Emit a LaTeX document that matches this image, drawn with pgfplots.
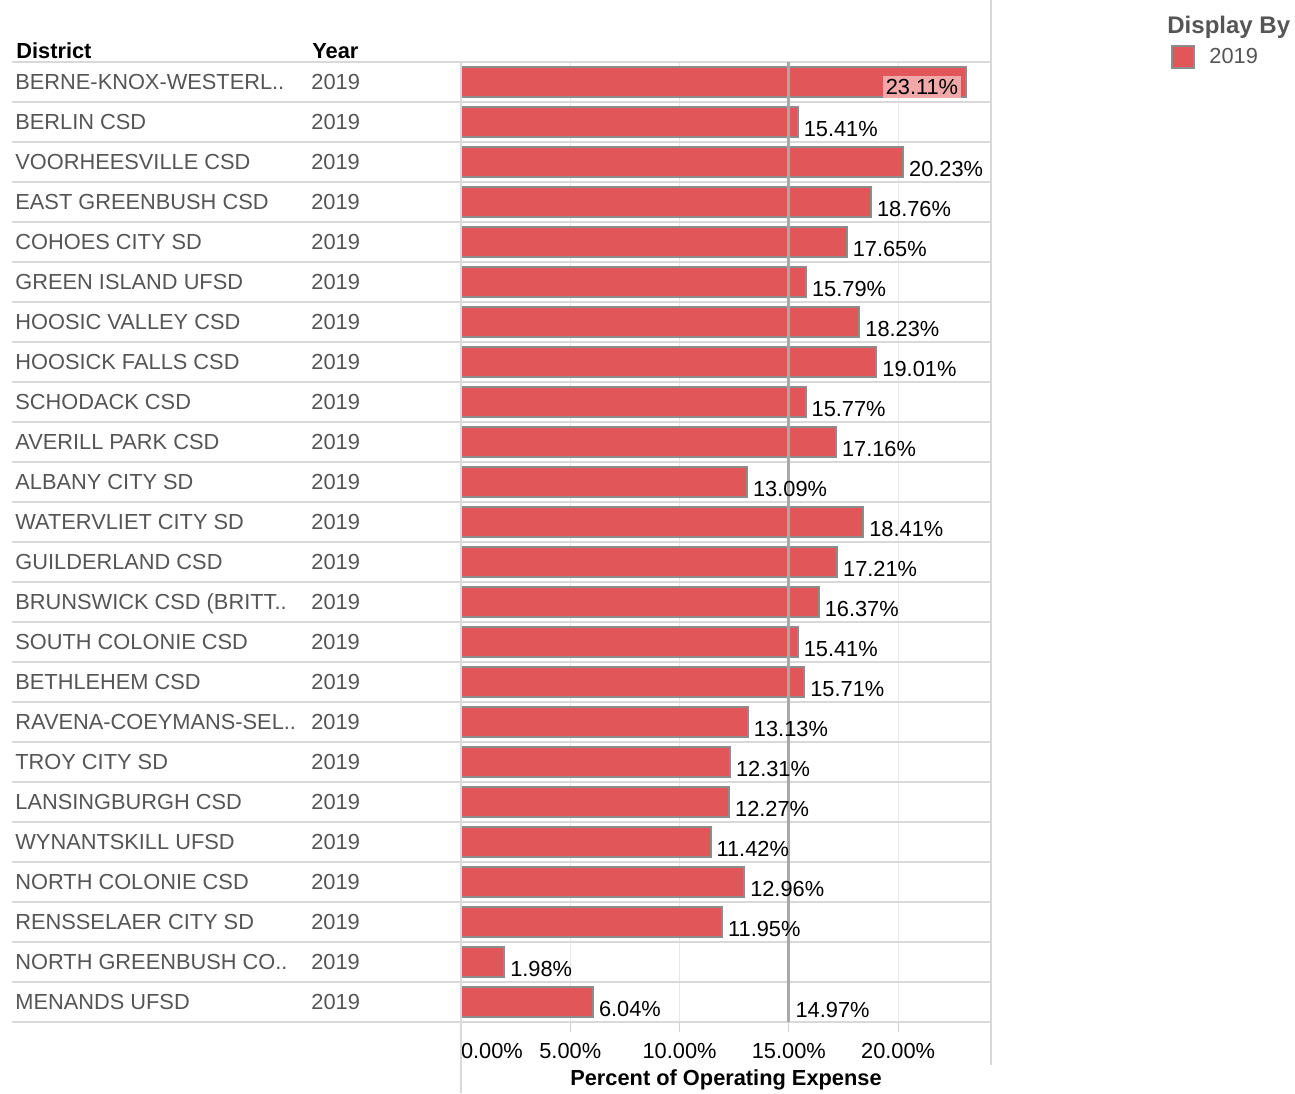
\documentclass[border=0pt]{standalone}
\usepackage{fontspec}
\setmainfont{Liberation Sans}
\usepackage{pgfplots}
\pgfplotsset{compat=1.18}
\usepackage{pgfplotstable}

\definecolor{barred}{HTML}{E15759}
\definecolor{barborder}{HTML}{8C8C8C}
\definecolor{refc}{HTML}{A8A8A8}
\definecolor{sepc}{HTML}{D9D9D9}
\definecolor{gridc}{HTML}{E8E8E8}
\definecolor{tickc}{HTML}{D0D0D0}
\definecolor{textgray}{HTML}{555555}
\definecolor{pinkc}{HTML}{F0A8A8}

\newcommand{\fs}{\fontsize{10.9pt}{13pt}\selectfont}
\newcommand{\rowlab}[1]{\makebox[148pt][l]{#1}2019}

\pgfplotstableread{
idx val
2 15.41
3 20.23
4 18.76
5 17.65
6 15.79
7 18.23
8 19.01
9 15.77
10 17.16
11 13.09
12 18.41
13 17.21
14 16.37
15 15.41
16 15.71
17 13.13
18 12.31
19 12.27
20 11.42
21 12.96
22 11.95
23 1.98
24 6.04
}\rest

\pgfplotsset{/pgf/number format/assume math mode=true}

\begin{document}
\begin{tikzpicture}
\path[use as bounding box] (0pt,0pt) rectangle (647.5pt,-546.5pt);
\begin{axis}[
  at={(230.5pt,-511pt)}, anchor=south west,
  scale only axis, width=265pt, height=480pt,
  xmin=0, xmax=24.25, ymin=0.5, ymax=24.5, y dir=reverse,
  bar width=15pt,
  clip=false,
  axis line style={draw=none},
  tick pos=left,
  xtick={0,5,10,15,20},
  xticklabels={\makebox[0pt][l]{0.00\%},5.00\%,10.00\%,15.00\%,20.00\%},
  xmajorgrids, grid style={color=gridc, line width=0.6pt},
  tick align=outside, major tick length=5pt,
  xtick style={color=tickc, line width=0.6pt},
  xticklabel style={anchor=base, inner sep=0pt, yshift=-13pt, font=\fs, text=black},
  ytick={1,...,24}, ytick style={draw=none},
  yticklabels={\rowlab{BERNE-KNOX-WESTERL..},\rowlab{BERLIN CSD},\rowlab{VOORHEESVILLE CSD},\rowlab{EAST GREENBUSH CSD},\rowlab{COHOES CITY SD},\rowlab{GREEN ISLAND UFSD},\rowlab{HOOSIC VALLEY CSD},\rowlab{HOOSICK FALLS CSD},\rowlab{SCHODACK CSD},\rowlab{AVERILL PARK CSD},\rowlab{ALBANY CITY SD},\rowlab{WATERVLIET CITY SD},\rowlab{GUILDERLAND CSD},\rowlab{BRUNSWICK CSD (BRITT..},\rowlab{SOUTH COLONIE CSD},\rowlab{BETHLEHEM CSD},\rowlab{RAVENA-COEYMANS-SEL..},\rowlab{TROY CITY SD},\rowlab{LANSINGBURGH CSD},\rowlab{WYNANTSKILL UFSD},\rowlab{NORTH COLONIE CSD},\rowlab{RENSSELAER CITY SD},\rowlab{NORTH GREENBUSH CO..},\rowlab{MENANDS UFSD}},
  yticklabel style={anchor=west, xshift=-218pt, inner sep=0pt, text height=7.8pt, text depth=0pt, font=\fs, text=textgray},
  xlabel={Percent of Operating Expense},
  xlabel style={at={(axis description cs:0.5,0)}, anchor=base, yshift=-31.5pt, inner sep=0pt, font=\bfseries\fs},
  legend style={draw=none, fill=none, at={(axis description cs:1.3396,1.0052)}, anchor=west, font=\fs, text=textgray, inner sep=0pt,
    /tikz/every odd column/.append style={column sep=5pt}},
  legend cell align=left,
]
\pgfplotsinvokeforeach{0,...,24}{
  \draw[sepc, line width=1pt] ([xshift=-224.5pt]axis cs:0,#1.5) -- (axis cs:24.25,#1.5);
}
\addplot[xbar, bar shift=0pt, fill=barred, draw=barborder, line width=1pt,
  point meta=x,
  nodes near coords={\pgfmathprintnumber[fixed,fixed zerofill,precision=2]{\pgfplotspointmeta}\%},
  nodes near coords style={anchor=east, fill=pinkc, inner sep=1.5pt, xshift=-2pt, yshift=-2.5pt, font=\fs, text=black},
  legend image code/.code={\draw[fill=barred, draw=barborder, line width=1pt] (0pt,-5.5pt) rectangle (11pt,5.5pt);}]
  coordinates {(23.11,1)};
\addlegendentry{2019}
\addplot[xbar, bar shift=0pt, fill=barred, draw=barborder, line width=1pt, forget plot,
  point meta=x,
  nodes near coords={\pgfmathprintnumber[fixed,fixed zerofill,precision=2]{\pgfplotspointmeta}\%},
  nodes near coords style={anchor=west, inner sep=0pt, xshift=2.5pt, yshift=-3.5pt, font=\fs, text=black}]
  table[x=val, y=idx] {\rest};
\addplot[refc, line width=1.5pt, forget plot] coordinates {(14.97,0.5) (14.97,24.5)};
\node[anchor=west, inner sep=0pt, xshift=3.5pt, yshift=-4pt, font=\fs, text=black] at (axis cs:14.97,24) {14.97\%};
\end{axis}
\begin{scope}[x=0.5pt, y=-0.5pt]
  \draw[sepc, line width=0.8pt] (461,62) -- (461,1093);
  \draw[sepc, line width=0.8pt] (991,0) -- (991,1065);
  \node[anchor=base west, inner sep=0pt, font=\bfseries\fs] at (16,58) {District};
  \node[anchor=base west, inner sep=0pt, font=\bfseries\fs] at (312,58) {Year};
  \node[anchor=base west, inner sep=0pt, font=\bfseries\fontsize{12pt}{14pt}\selectfont, text=textgray] at (1167,33) {Display By};
\end{scope}
\end{tikzpicture}
\end{document}
